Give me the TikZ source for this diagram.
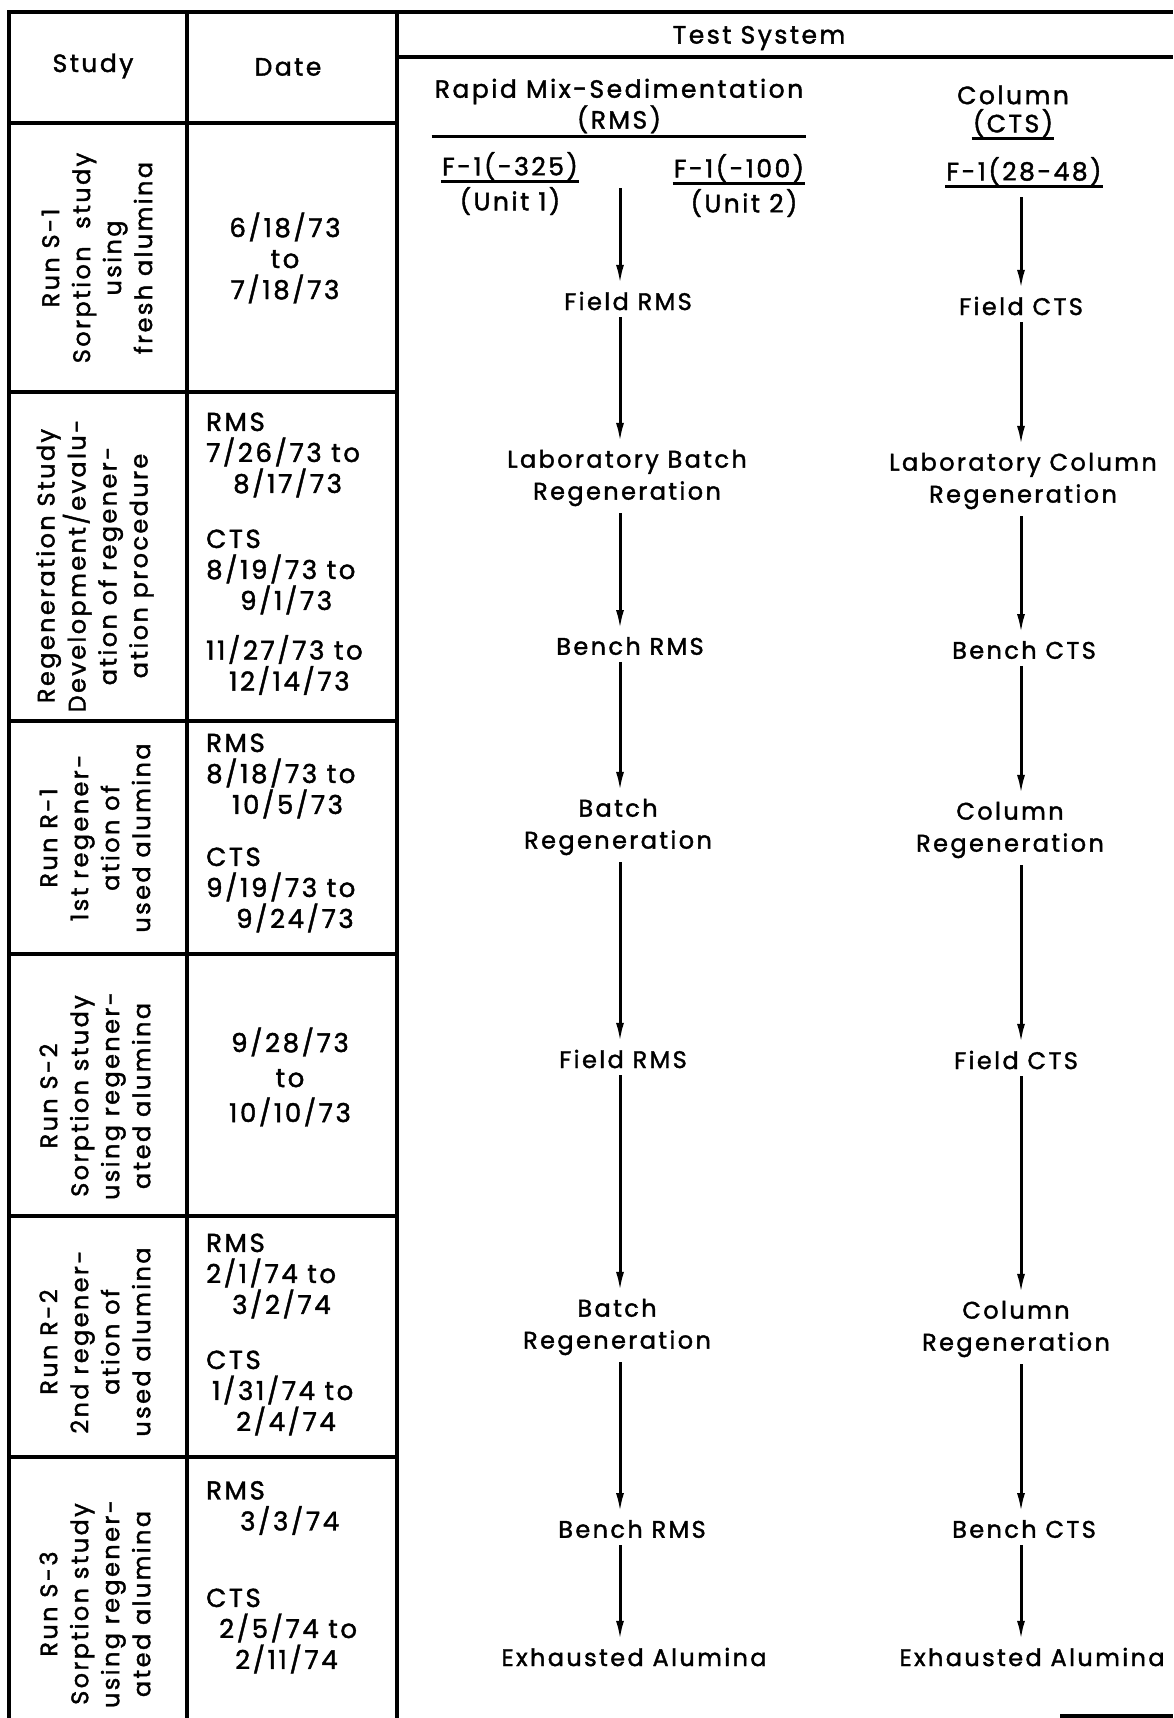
\documentclass[tikz,border=0pt]{standalone}
\usepackage{fontspec}
\setmainfont{Poppins}[LetterSpace=10, FakeBold=1.6]
\usetikzlibrary{arrows.meta,positioning}

\tikzset{%
  tabline/.style={line width=3.2pt},
  link/.style={-{Latex[length=20pt,width=8pt]},line width=3pt},
  stage/.style={align=center, font=\fontsize{24}{32}\selectfont, inner sep=2pt, outer sep=5pt},
  head/.style={align=center, font=\fontsize{25}{28}\selectfont, inner sep=1pt},
  study/.style={rotate=90, align=center, font=\fontsize{24}{31}\selectfont, inner sep=0pt},
  when/.style={align=left, anchor=west, font=\fontsize{26}{31}\selectfont, inner sep=0pt},
  whenc/.style={align=center, font=\fontsize{26}{31}\selectfont, inner sep=0pt}
}

\begin{document}
\begin{tikzpicture}[x=1pt, y=-1pt]
 \useasboundingbox (0,0) rectangle (1173,1718);

 % table rules
 \draw[tabline] (9,1718) -- (9,12) -- (1173,12);
 \draw[tabline] (187,12) -- (187,1718);
 \draw[tabline] (397,12) -- (397,1718);
 \draw[tabline] (397,57) -- (1173,57);
 \draw[tabline] (9,123) -- (397,123);
 \foreach \y in {392,721,954,1216,1457}
   \draw[tabline] (9,\y) -- (397,\y);
 \draw[tabline] (1060,1716) -- (1173,1716);

 % headings
 \node[head] (study) at (93,66) {Study};
 \node[head] (date) at (288,67) {Date};
 \node[head] (tests) at (759,38) {Test System};
 \node[head, inner sep=3pt] (rmshead) at (619,106) {Rapid\ Mix-Sedimentation\\(RMS)};
 \node[head] (colhead) at (1013,95) {Column};
 \node[head] (ctshead) at (1013,123) {(CTS)};
 \node[head] (f325) at (510,166) {F-1(-325)};
 \node[head] (u1) at (510,201) {(Unit 1)};
 \node[head] (f100) at (739,168) {F-1(-100)};
 \node[head] (u2) at (744,203) {(Unit 2)};
 \node[head] (f2848) at (1024,171) {F-1(28-48)};

 \draw[tabline] (rmshead.south west) -- (rmshead.south east);
 \draw[tabline] (ctshead.south west) -- (ctshead.south east);
 \draw[tabline] (f325.south west) -- (f325.south east);
 \draw[tabline] (f100.south west) -- (f100.south east);
 \draw[tabline] (f2848.south west) -- (f2848.south east);

 % study column
 \node[study] (s1) at (97,258) {Run S-1\\Sorption\ \ study\\using\\fresh alumina};
 \node[study] (s2) at (95,566) {Regeneration Study\\Development/evalu-\\ation of regener-\\ation procedure};
 \node[study] (s3) at (95,838) {Run R-1\\1st regener-\\ation of\\used alumina};
 \node[study] (s4) at (95,1096) {Run S-2\\Sorption study\\using regener-\\ated alumina};
 \node[study] (s5) at (95,1342) {Run R-2\\2nd regener-\\ation of\\used alumina};
 \node[study] (s6) at (95,1604) {Run S-3\\Sorption study\\using regener-\\ated alumina};

 % date column
 \node[whenc] (d1) at (285,258) {6/18/73\\to\\7/18/73};
 \node[when] (d2a) at (206,455) {RMS\\7/26/73 to\\\hspace*{27pt}8/17/73};
 \node[when] (d2b) at (206,572) {CTS\\8/19/73 to\\\hspace*{34pt}9/1/73};
 \node[when] (d2c) at (206,665) {11/27/73 to\\\hspace*{23pt}12/14/73};
 \node[when] (d3a) at (206,776) {RMS\\8/18/73 to\\\hspace*{26pt}10/5/73};
 \node[when] (d3b) at (206,890) {CTS\\9/19/73 to\\\hspace*{30pt}9/24/73};
 \node[whenc, font=\fontsize{26}{35}\selectfont] (d4) at (290,1077) {9/28/73\\to\\10/10/73};
 \node[when] (d5a) at (206,1276) {RMS\\2/1/74 to\\\hspace*{26pt}3/2/74};
 \node[when] (d5b) at (206,1393) {CTS\\\hspace*{6pt}1/31/74 to\\\hspace*{30pt}2/4/74};
 \node[when] (d6a) at (206,1508) {RMS\\\hspace*{34pt}3/3/74};
 \node[when] (d6b) at (206,1631) {CTS\\\hspace*{13pt}2/5/74 to\\\hspace*{29pt}2/11/74};

 % RMS line
 \coordinate (rmsx) at (620,0);
 \coordinate (rmstop) at (620,188);
 \node[stage] (r1) at (628,301) {Field RMS};
 \node[stage] (r2) at (627,478) {Laboratory Batch\\Regeneration};
 \node[stage] (r3) at (630,646) {Bench RMS};
 \node[stage] (r4) at (618,827) {Batch\\Regeneration};
 \node[stage] (r5) at (623,1059) {Field RMS};
 \node[stage] (r6) at (617,1327) {Batch\\Regeneration};
 \node[stage] (r7) at (632,1529) {Bench RMS};
 \node[stage] (r8) at (634,1657) {Exhausted Alumina};

 % CTS line
 \coordinate (ctsx) at (1021,0);
 \coordinate (ctstop) at (1021,197);
 \node[stage] (c1) at (1021,306) {Field CTS};
 \node[stage] (c2) at (1023,481) {Laboratory Column\\Regeneration};
 \node[stage] (c3) at (1024,650) {Bench CTS};
 \node[stage] (c4) at (1010,830) {Column\\Regeneration};
 \node[stage] (c5) at (1016,1060) {Field CTS};
 \node[stage] (c6) at (1016,1329) {Column\\Regeneration};
 \node[stage] (c7) at (1024,1529) {Bench CTS};
 \node[stage] (c8) at (1032,1657) {Exhausted Alumina};

 \draw[link] (rmstop) -- (r1.north -| rmsx);
 \draw[link] (ctstop) -- (c1.north -| ctsx);
 \foreach \a/\b in {r1/r2,r2/r3,r3/r4,r4/r5,r5/r6,r6/r7,r7/r8}
   \draw[link] (\a.south -| rmsx) -- (\b.north -| rmsx);
 \foreach \a/\b in {c1/c2,c2/c3,c3/c4,c4/c5,c5/c6,c6/c7,c7/c8}
   \draw[link] (\a.south -| ctsx) -- (\b.north -| ctsx);

\end{tikzpicture}
\end{document}
